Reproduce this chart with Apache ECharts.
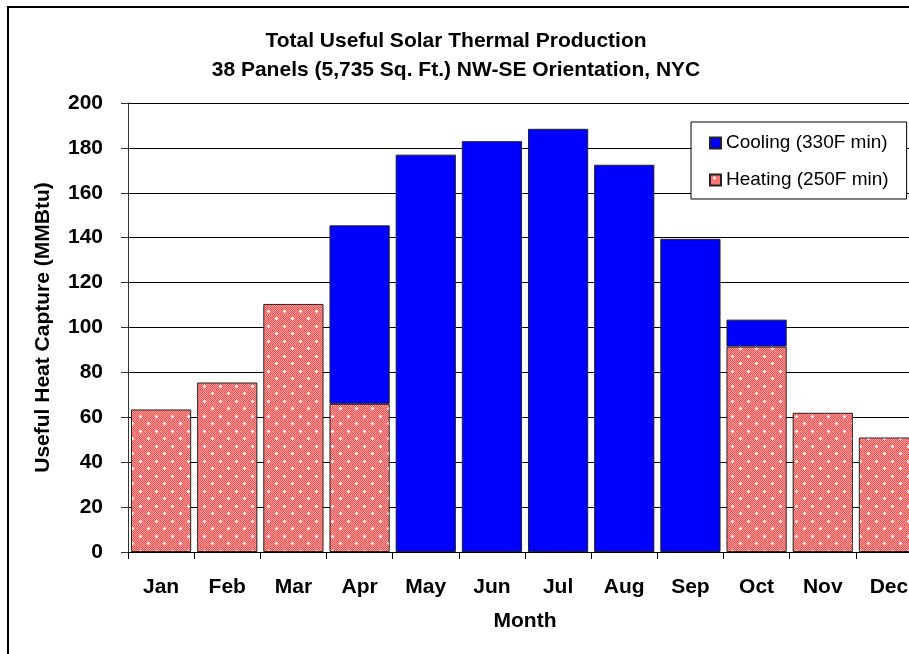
<!DOCTYPE html>
<html>
<head>
<meta charset="utf-8">
<script src="https://cdn.jsdelivr.net/npm/echarts@6/dist/echarts.min.js"></script>
<style>
  html, body { margin: 0; padding: 0; background: #fff; }
  #main { width: 909px; height: 654px; }
</style>
</head>
<body>
<div id="main"></div>
<script>
var months = ['Jan', 'Feb', 'Mar', 'Apr', 'May', 'Jun', 'Jul', 'Aug', 'Sep', 'Oct', 'Nov', 'Dec'];
// MMBtu
var heating = [63.5, 75.5, 110.5, 66, '-', '-', '-', '-', '-', 91.5, 62, 51];
var cooling = ['-', '-', '-', 79.5, 177, 183, 188.5, 172.5, 139.5, 12, '-', '-'];
var yMin = 0, yMax = 200, yStep = 20;

var FONT = '"Liberation Sans", Arial, sans-serif';

// red checker with little white crosses, like the excel fill
function makeHatch() {
  var c = document.createElement('canvas');
  c.width = 16;
  c.height = 15;
  var ctx = c.getContext('2d');
  for (var y = 0; y < 15; y++) {
    for (var x = 0; x < 16; x++) {
      ctx.fillStyle = (x + y) % 2 === 0 ? '#ff4a4a' : '#ffa6a6';
      ctx.fillRect(x, y, 1, 1);
    }
  }
  ctx.fillStyle = '#ffffff';
  [[4, 3], [12, 11]].forEach(function (p) {
    ctx.fillRect(p[0] - 1, p[1], 3, 1);
    ctx.fillRect(p[0], p[1] - 1, 1, 3);
  });
  return c;
}

var chart = echarts.init(document.getElementById('main'), null, { renderer: 'canvas' });

var option = {
  backgroundColor: '#fff',
  animation: false,
  textStyle: { fontFamily: FONT },
  title: {
    text: 'Total Useful Solar Thermal Production\n38 Panels (5,735 Sq. Ft.) NW-SE Orientation, NYC',
    left: 451,
    top: 22,
    textAlign: 'center',
    textStyle: { fontSize: 21, fontWeight: 'bold', color: '#000', fontFamily: FONT, lineHeight: 29 }
  },
  graphic: [{
    type: 'rect',
    silent: true,
    z: -10,
    shape: { x: 8, y: 7, width: 1000, height: 1000 },
    style: { fill: null, stroke: '#000', lineWidth: 2 }
  }],
  legend: {
    orient: 'vertical',
    left: 691,
    top: 122,
    data: ['Cooling (330F min)', 'Heating (250F min)'],
    icon: 'rect',
    itemWidth: 11,
    itemHeight: 11,
    itemGap: 17,
    padding: [11, 18, 9, 18],
    borderColor: '#000',
    borderWidth: 1,
    backgroundColor: '#fff',
    z: 10,
    textStyle: { fontSize: 19, color: '#000', fontFamily: FONT, lineHeight: 20 }
  },
  // the plot runs past the right edge of the picture, so no clamping
  grid: { left: 128, width: 794, top: 103, height: 449, containLabel: false, outerBoundsMode: 'none' },
  xAxis: {
    type: 'category',
    data: months,
    name: 'Month',
    nameLocation: 'middle',
    nameGap: 59,
    nameTextStyle: { fontSize: 21, fontWeight: 'bold', color: '#000', fontFamily: FONT },
    axisLine: { lineStyle: { color: '#000', width: 1 } },
    axisTick: { show: true, length: 7, lineStyle: { color: '#000' } },
    axisLabel: { interval: 0, margin: 25, fontSize: 21, fontWeight: 'bold', color: '#000', fontFamily: FONT }
  },
  yAxis: {
    type: 'value',
    min: yMin,
    max: yMax,
    interval: yStep,
    name: 'Useful Heat Capture (MMBtu)',
    nameLocation: 'middle',
    nameRotate: 90,
    nameGap: 74,
    nameTextStyle: { fontSize: 21, fontWeight: 'bold', color: '#000', fontFamily: FONT },
    axisLine: { show: true, lineStyle: { color: '#333', width: 1 } },
    axisTick: { show: true, length: 7, lineStyle: { color: '#333' } },
    splitLine: { show: true, lineStyle: { color: '#000', width: 1 } },
    axisLabel: { margin: 25, fontSize: 21, fontWeight: 'bold', color: '#000', fontFamily: FONT }
  },
  series: [{
    name: 'Heating (250F min)',
    type: 'bar',
    stack: 'total',
    barCategoryGap: '9%',
    data: heating,
    itemStyle: {
      color: { image: makeHatch(), repeat: 'repeat' },
      borderColor: '#222',
      borderWidth: 1
    }
  }, {
    name: 'Cooling (330F min)',
    type: 'bar',
    stack: 'total',
    barCategoryGap: '9%',
    data: cooling,
    itemStyle: {
      color: '#0000ff',
      borderColor: '#222',
      borderWidth: 1
    }
  }]
};

chart.setOption(option);
</script>
</body>
</html>
